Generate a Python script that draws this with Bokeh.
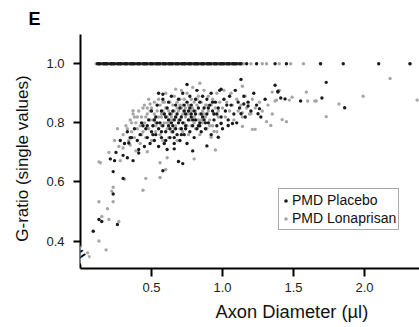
import numpy as np
from bokeh.plotting import figure
from bokeh.models import Range1d, FixedTicker, Label, Legend, LegendItem, ColumnDataSource, Title
from bokeh.embed import file_html
from bokeh.resources import INLINE

# ---------------- data ----------------
x_ticks = [0.5, 1.0, 1.5, 2.0]
x_tick_labels = ["0.5", "1.0", "1.5", "2.0"]
y_ticks = [0.4, 0.6, 0.8, 1.0]
y_tick_labels = ["0.4", "0.6", "0.8", "1.0"]

series_names = ["PMD Placebo", "PMD Lonaprisan"]

# G-ratio of 1.0 (unmyelinated axons): diameters
placebo_x_at1 = [0.12, 0.13, 0.14, 0.16, 0.17, 0.18, 0.19, 0.21, 0.22, 0.23, 0.24, 0.26, 0.27, 0.28,
                 0.29, 0.31, 0.32, 0.33, 0.35, 0.36, 0.37, 0.38, 0.40, 0.41, 0.42, 0.44, 0.45, 0.46,
                 0.47, 0.49, 0.50, 0.51, 0.53, 0.54, 0.55, 0.56, 0.58, 0.59, 0.60, 0.62, 0.63, 0.64,
                 0.65, 0.67, 0.68, 0.69, 0.71, 0.72, 0.73, 0.74, 0.76, 0.77, 0.78, 0.80, 0.81, 0.82,
                 0.83, 0.85, 0.86, 0.87, 0.89, 0.90, 0.91, 0.92, 0.94, 0.95, 0.96, 0.98, 0.99, 1.00,
                 1.01, 1.03, 1.04, 1.05, 1.07, 1.08, 1.09, 1.10, 1.12, 1.13,
                 1.17, 1.24, 1.37, 1.45, 1.69, 1.85, 2.10, 2.32]
lonaprisan_x_at1 = [0.11, 0.125, 0.135, 0.15, 0.165, 0.175, 0.185, 0.20, 0.215, 0.225, 0.235, 0.25,
                    0.265, 0.275, 0.285, 0.30, 0.315, 0.325, 0.34, 0.355, 0.365, 0.375, 0.39, 0.405,
                    0.415, 0.43, 0.445, 0.455, 0.465, 0.48, 0.495, 0.505, 0.52, 0.535, 0.545, 0.555,
                    0.57, 0.585, 0.595, 0.61, 0.625, 0.635, 0.645, 0.66, 0.675, 0.685, 0.70, 0.715,
                    0.725, 0.735, 0.75, 0.765, 0.775, 0.79, 0.805, 0.815, 0.825, 0.84, 0.855, 0.865,
                    0.88, 0.895, 0.905, 0.915, 0.93, 0.945, 0.955, 0.97, 0.985, 0.995, 1.005, 1.02,
                    1.035, 1.045, 1.06, 1.075, 1.085, 1.095, 1.11, 1.125, 1.14, 1.15,
                    1.20, 1.28, 1.31, 1.40, 1.48, 1.57, 1.69, 2.32]

# myelinated axons: diameter, g-ratio
placebo_x = [0.23, 0.30, 0.23, 0.21, 0.24, 0.13, 0.15, 0.26, 0.09, 0.58, 0.33, 0.37, 0.34, 0.41, 0.69,
             0.72, 0.79, 0.89, 0.66, 0.97, 1.07, 1.04, 0.99, 1.25, 1.26, 1.18, 1.15, 1.13, 1.37, 1.39,
             1.39, 1.41, 1.44, 1.55, 1.70, 1.73, 1.86, 0.75, 1.13, 0.58, 0.55, 0.99,
             0.25, 0.28, 0.31, 0.33,
             0.38, 0.40, 0.42, 0.43, 0.45, 0.46, 0.47, 0.48, 0.49, 0.50, 0.50, 0.51, 0.52, 0.53, 0.53,
             0.54, 0.55, 0.55, 0.56, 0.57, 0.57, 0.58, 0.58, 0.59, 0.60, 0.60, 0.61, 0.61, 0.62, 0.62,
             0.63, 0.63, 0.64, 0.64, 0.65, 0.65, 0.66, 0.66, 0.67, 0.67, 0.68, 0.68, 0.69, 0.69, 0.70,
             0.70, 0.71, 0.71, 0.72, 0.72, 0.73, 0.73, 0.74, 0.74, 0.75, 0.75, 0.76, 0.76, 0.77, 0.77,
             0.78, 0.78, 0.79, 0.80, 0.80, 0.81, 0.81, 0.82, 0.82, 0.83, 0.84, 0.84, 0.85, 0.85, 0.86,
             0.87, 0.87, 0.88, 0.89, 0.89, 0.90, 0.91, 0.92, 0.92, 0.93, 0.94, 0.95, 0.96, 0.97, 0.98,
             0.99, 1.00, 1.01, 1.02, 1.04, 1.05, 1.06, 1.08, 1.09, 1.10, 1.11, 1.12, 1.15, 1.16, 1.18,
             1.20, 1.22, 1.24, 1.27, 1.30,
             0.36, 0.41, 0.44, 0.52, 0.57, 0.62, 0.66, 0.71, 0.79, 0.83, 0.88, 0.94, 0.30, 0.35,
             0.54, 0.59, 0.63, 0.67, 0.70, 0.74, 0.77, 0.81, 0.86, 0.90, 0.96, 1.03, 0.47, 0.51,
             0.60, 0.65, 0.73, 0.78, 0.84, 0.93]
placebo_y = [0.635, 0.612, 0.559, 0.678, 0.672, 0.473, 0.466, 0.456, 0.433, 0.638, 0.682, 0.672, 0.732,
             0.698, 0.669, 0.662, 0.705, 0.722, 0.712, 0.751, 0.798, 0.791, 0.798, 0.831, 0.848, 0.857,
             0.864, 0.831, 0.927, 0.904, 0.907, 0.884, 0.881, 0.874, 0.884, 0.937, 0.851, 0.930, 0.947,
             0.897, 0.900, 0.914,
             0.70, 0.74, 0.73, 0.77,
             0.78, 0.74, 0.76, 0.80, 0.72, 0.78, 0.75, 0.81, 0.73, 0.77, 0.84, 0.79, 0.74, 0.82, 0.76,
             0.86, 0.78, 0.72, 0.80, 0.84, 0.75, 0.88, 0.79, 0.73, 0.82, 0.77, 0.85, 0.71, 0.79, 0.87,
             0.75, 0.83, 0.80, 0.89, 0.77, 0.84, 0.73, 0.81, 0.86, 0.78, 0.83, 0.76, 0.88, 0.80, 0.74,
             0.85, 0.82, 0.78, 0.90, 0.80, 0.76, 0.86, 0.83, 0.79, 0.87, 0.73, 0.81, 0.84, 0.77, 0.89,
             0.82, 0.86, 0.79, 0.84, 0.75, 0.88, 0.81, 0.78, 0.91, 0.85, 0.80, 0.87, 0.77, 0.83, 0.89,
             0.81, 0.85, 0.78, 0.88, 0.83, 0.80, 0.86, 0.90, 0.76, 0.84, 0.81, 0.87, 0.79, 0.85, 0.91,
             0.82, 0.78, 0.88, 0.84, 0.81, 0.89, 0.86, 0.83, 0.91, 0.80, 0.87, 0.85, 0.89, 0.82, 0.87,
             0.84, 0.90, 0.86, 0.82, 0.88,
             0.75, 0.71, 0.79, 0.81, 0.77, 0.81, 0.75, 0.76, 0.81, 0.79, 0.80, 0.83, 0.69, 0.75,
             0.80, 0.83, 0.78, 0.82, 0.81, 0.78, 0.85, 0.83, 0.82, 0.85, 0.83, 0.86, 0.79, 0.76,
             0.74, 0.79, 0.84, 0.83, 0.79, 0.87]

lonaprisan_x = [0.14, 0.13, 0.31, 0.56, 0.60, 0.56, 0.46, 0.23, 0.22, 0.44, 0.13, 0.23, 0.19, 0.15,
                0.20, 0.27, 0.13, 0.18, 0.05, 0.06, 0.61, 0.80, 0.28, 0.39, 0.47, 0.30, 0.35, 0.95,
                0.92, 0.94, 1.14, 1.21, 1.23, 1.31, 1.34, 1.42, 1.45, 1.73, 1.82, 1.20, 1.14, 1.35,
                1.40, 1.38, 1.37, 1.47, 1.49, 1.59, 1.60, 1.65, 1.66, 1.99, 2.18, 2.37, 0.84, 0.67,
                1.14, 0.49, 0.37,
                0.20, 0.24, 0.27, 0.26,
                0.30, 0.32, 0.34, 0.35, 0.36, 0.37, 0.38, 0.39, 0.40, 0.41, 0.42, 0.43, 0.44, 0.45,
                0.45, 0.46, 0.47, 0.48, 0.48, 0.49, 0.50, 0.50, 0.51, 0.52, 0.52, 0.53, 0.53, 0.54,
                0.55, 0.55, 0.56, 0.56, 0.57, 0.57, 0.58, 0.58, 0.59, 0.59, 0.60, 0.60, 0.61, 0.61,
                0.62, 0.62, 0.63, 0.63, 0.64, 0.64, 0.65, 0.65, 0.66, 0.66, 0.67, 0.67, 0.68, 0.68,
                0.69, 0.69, 0.70, 0.70, 0.71, 0.71, 0.72, 0.72, 0.73, 0.73, 0.74, 0.74, 0.75, 0.75,
                0.76, 0.76, 0.77, 0.77, 0.78, 0.78, 0.79, 0.79, 0.80, 0.80, 0.81, 0.81, 0.82, 0.83,
                0.83, 0.84, 0.84, 0.85, 0.86, 0.86, 0.87, 0.88, 0.88, 0.89, 0.90, 0.90, 0.91, 0.92,
                0.93, 0.93, 0.94, 0.95, 0.96, 0.96, 0.97, 0.98, 0.99, 1.00, 1.01, 1.02, 1.03, 1.04,
                1.05, 1.06, 1.07, 1.08, 1.10, 1.11, 1.13, 1.14, 1.16, 1.17, 1.19, 1.21, 1.23, 1.26,
                1.28, 1.32, 1.35,
                0.33, 0.38, 0.42, 0.46, 0.51, 0.54, 0.59, 0.63, 0.68, 0.73, 0.78, 0.82, 0.87, 0.91,
                0.36, 0.40, 0.44, 0.49, 0.53, 0.57, 0.61, 0.66, 0.70, 0.75, 0.80, 0.85, 0.89, 0.97,
                0.43, 0.47, 0.52, 0.58, 0.64, 0.72]
lonaprisan_y = [0.665, 0.668, 0.609, 0.665, 0.642, 0.615, 0.612, 0.582, 0.569, 0.572, 0.533, 0.533,
                0.509, 0.483, 0.473, 0.466, 0.400, 0.370, 0.360, 0.347, 0.682, 0.678, 0.672, 0.705,
                0.702, 0.715, 0.725, 0.708, 0.751, 0.771, 0.788, 0.778, 0.778, 0.804, 0.791, 0.811,
                0.804, 0.821, 0.864, 0.831, 0.834, 0.904, 0.910, 0.877, 0.874, 0.877, 0.887, 0.904,
                0.874, 0.874, 0.874, 0.890, 0.950, 0.877, 0.934, 0.914, 0.924, 0.864, 0.841,
                0.70, 0.74, 0.72, 0.78,
                0.76, 0.79, 0.74, 0.81, 0.77, 0.83, 0.75, 0.80, 0.78, 0.84, 0.73, 0.82, 0.77, 0.80,
                0.86, 0.75, 0.83, 0.78, 0.88, 0.81, 0.74, 0.85, 0.79, 0.83, 0.87, 0.77, 0.80, 0.84,
                0.82, 0.88, 0.76, 0.86, 0.79, 0.82, 0.84, 0.74, 0.87, 0.80, 0.85, 0.90, 0.78, 0.82,
                0.84, 0.75, 0.87, 0.80, 0.83, 0.77, 0.86, 0.81, 0.89, 0.84, 0.79, 0.82, 0.87, 0.74,
                0.84, 0.81, 0.88, 0.78, 0.85, 0.91, 0.83, 0.77, 0.80, 0.88, 0.85, 0.82, 0.79, 0.90,
                0.86, 0.76, 0.83, 0.81, 0.88, 0.79, 0.85, 0.92, 0.82, 0.87, 0.78, 0.84, 0.86, 0.81,
                0.89, 0.76, 0.83, 0.87, 0.80, 0.84, 0.91, 0.82, 0.86, 0.78, 0.84, 0.89, 0.81, 0.86,
                0.79, 0.88, 0.83, 0.85, 0.90, 0.77, 0.82, 0.87, 0.80, 0.85, 0.91, 0.82, 0.87, 0.79,
                0.84, 0.90, 0.86, 0.81, 0.88, 0.84, 0.86, 0.82, 0.89, 0.85, 0.83, 0.88, 0.85, 0.87,
                0.84, 0.86, 0.83,
                0.78, 0.82, 0.79, 0.82, 0.81, 0.86, 0.83, 0.81, 0.85, 0.84, 0.84, 0.88, 0.83, 0.79,
                0.80, 0.82, 0.85, 0.84, 0.79, 0.83, 0.80, 0.78, 0.86, 0.83, 0.80, 0.81, 0.86, 0.84,
                0.76, 0.85, 0.81, 0.87, 0.82, 0.86]

# ---------------- figure ----------------
FONT = "Liberation Sans"
BLACK = "#1a1a1a"
GRAY = "#a6a6a6"
NB = "\u00a0"

p = figure(width=419, height=327, output_backend="svg", toolbar_location=None,
           x_range=Range1d(0, 2.387), y_range=Range1d(0.307, 1.099),
           min_border_left=80, min_border_right=0, min_border_top=32, min_border_bottom=56)
p.outline_line_color = None
p.xgrid.visible = False
p.ygrid.visible = False

# panel letter as the plot title (right-aligned, pushed left by the offset)
p.title.text = "E"
p.title.align = "right"
p.title.offset = 379
p.title.standoff = 12
p.title.text_font = FONT
p.title.text_font_size = "18px"
p.title.text_font_style = "bold"
p.title.text_color = "black"

src_l = ColumnDataSource(dict(x=lonaprisan_x + lonaprisan_x_at1,
                              y=lonaprisan_y + [1.0] * len(lonaprisan_x_at1)))
src_p = ColumnDataSource(dict(x=placebo_x + placebo_x_at1,
                              y=placebo_y + [1.0] * len(placebo_x_at1)))

r_l = p.scatter("x", "y", source=src_l, size=3.4, fill_color=GRAY, line_color=None)
r_p = p.scatter("x", "y", source=src_p, size=3.4, fill_color=BLACK, line_color=None)

for ax in (p.xaxis[0], p.yaxis[0]):
    ax.axis_line_width = 2
    ax.axis_line_color = "black"
    ax.major_tick_line_width = 2
    ax.major_tick_line_color = "black"
    ax.major_tick_in = 0
    ax.major_tick_out = 7
    ax.minor_tick_line_color = None
    ax.major_label_text_font = FONT
    ax.major_label_text_font_size = "13px"
    ax.major_label_text_color = "#222222"

p.xaxis.ticker = FixedTicker(ticks=x_ticks)
p.xaxis.major_label_overrides = dict(zip(x_ticks, x_tick_labels))
p.xaxis.major_label_standoff = 6
p.xaxis.major_tick_out = 8
p.yaxis.ticker = FixedTicker(ticks=y_ticks)
p.yaxis.major_label_overrides = dict(zip(y_ticks, y_tick_labels))
p.yaxis.major_label_standoff = 9

# y axis title (trailing no-break spaces move the visible text a little down)
p.yaxis.axis_label = "G-ratio (single values)" + NB * 3
p.yaxis.axis_label_text_font = FONT
p.yaxis.axis_label_text_font_size = "17px"
p.yaxis.axis_label_text_font_style = "normal"
p.yaxis.axis_label_text_color = "#111111"
p.yaxis.axis_label_standoff = 11

# x axis title, shifted to the right as in the reference
xt = Title(text="Axon Diameter (µl)", align="left", offset=135, standoff=10,
           text_font=FONT, text_font_size="18.3px", text_font_style="normal",
           text_color="#111111", vertical_align="middle")
p.add_layout(xt, "below")

# axis break mark on the y axis
p.add_layout(Label(x=0, y=0.354, text="=", text_font=FONT, text_font_size="17px",
                   text_font_style="bold", text_align="center", text_baseline="middle",
                   angle=0.6, background_fill_color="white", text_color="black",
                   level="overlay"))

legend = Legend(items=[LegendItem(label=series_names[0], renderers=[r_p]),
                       LegendItem(label=series_names[1], renderers=[r_l])],
                location=(198, 38), margin=0, padding=2, spacing=0,
                glyph_width=9, glyph_height=9, label_height=18, label_standoff=2,
                label_text_font=FONT, label_text_font_size="14px",
                label_text_color="#111111",
                border_line_color="#555555", border_line_width=1,
                background_fill_color="white", background_fill_alpha=1)
p.add_layout(legend)

open("out.html", "w").write(file_html(p, INLINE))
